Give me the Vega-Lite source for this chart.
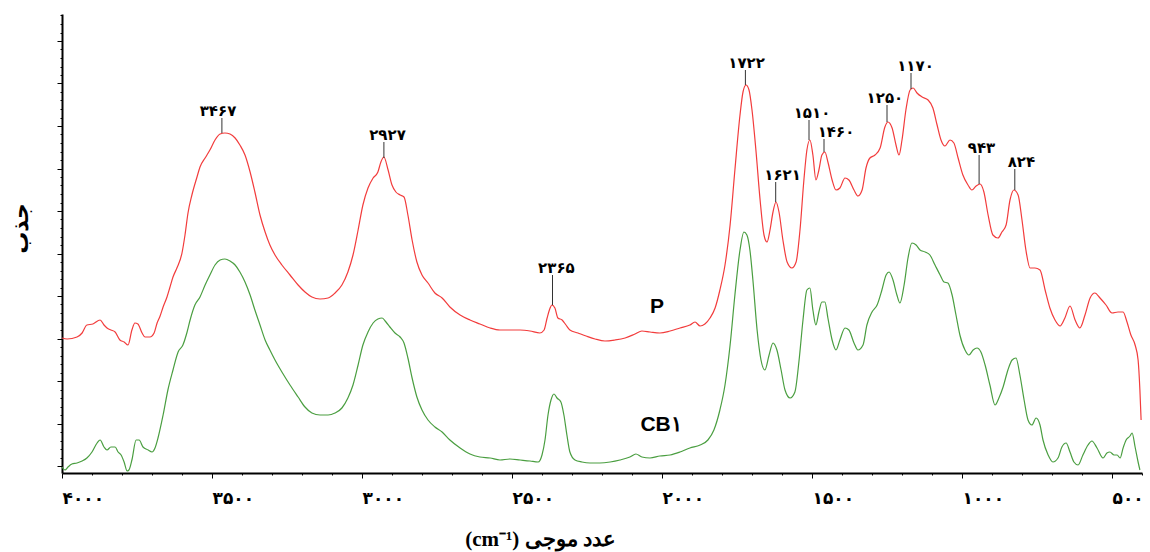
{
  "$schema": "https://vega.github.io/schema/vega-lite/v6.json",
  "autosize": {"type": "none"},
  "padding": {"left": 62, "top": 14, "right": 8, "bottom": 79},
  "width": 1080,
  "height": 459,
  "background": "white",
  "config": {
    "view": {"stroke": null},
    "axis": {"grid": false, "domainColor": "#000", "domainWidth": 2, "tickColor": "#000", "tickWidth": 1}
  },
  "datasets": {
    "spectra": [
      {"s":"P","w":4000,"a":13.5},{"s":"P","w":3983,"a":13.4},{"s":"P","w":3950,"a":13.6},{"s":"P","w":3933,"a":14.0},{"s":"P","w":3917,"a":14.8},{"s":"P","w":3897,"a":14.9},{"s":"P","w":3873,"a":15.3},{"s":"P","w":3860,"a":14.8},{"s":"P","w":3850,"a":14.5},{"s":"P","w":3837,"a":14.3},{"s":"P","w":3823,"a":14.1},{"s":"P","w":3807,"a":13.3},{"s":"P","w":3793,"a":13.1},{"s":"P","w":3780,"a":12.8},{"s":"P","w":3767,"a":14.3},{"s":"P","w":3757,"a":15.0},{"s":"P","w":3747,"a":14.9},{"s":"P","w":3733,"a":14.0},{"s":"P","w":3723,"a":13.6},{"s":"P","w":3707,"a":13.6},{"s":"P","w":3693,"a":14.0},{"s":"P","w":3683,"a":15.0},{"s":"P","w":3673,"a":15.7},{"s":"P","w":3663,"a":16.6},{"s":"P","w":3650,"a":17.6},{"s":"P","w":3640,"a":18.6},{"s":"P","w":3630,"a":19.6},{"s":"P","w":3617,"a":20.5},{"s":"P","w":3600,"a":22.0},{"s":"P","w":3590,"a":23.8},{"s":"P","w":3580,"a":26.0},{"s":"P","w":3567,"a":27.8},{"s":"P","w":3550,"a":29.6},{"s":"P","w":3540,"a":30.6},{"s":"P","w":3523,"a":31.5},{"s":"P","w":3507,"a":32.3},{"s":"P","w":3490,"a":33.3},{"s":"P","w":3473,"a":33.9},{"s":"P","w":3457,"a":34.0},{"s":"P","w":3440,"a":33.9},{"s":"P","w":3423,"a":33.5},{"s":"P","w":3407,"a":32.8},{"s":"P","w":3390,"a":31.8},{"s":"P","w":3373,"a":30.1},{"s":"P","w":3357,"a":28.1},{"s":"P","w":3340,"a":25.8},{"s":"P","w":3323,"a":24.1},{"s":"P","w":3307,"a":22.8},{"s":"P","w":3290,"a":21.8},{"s":"P","w":3267,"a":20.8},{"s":"P","w":3240,"a":19.8},{"s":"P","w":3213,"a":18.8},{"s":"P","w":3190,"a":18.1},{"s":"P","w":3167,"a":17.6},{"s":"P","w":3140,"a":17.4},{"s":"P","w":3113,"a":17.5},{"s":"P","w":3090,"a":18.0},{"s":"P","w":3067,"a":18.8},{"s":"P","w":3047,"a":20.1},{"s":"P","w":3030,"a":21.8},{"s":"P","w":3013,"a":24.3},{"s":"P","w":2997,"a":26.8},{"s":"P","w":2980,"a":28.5},{"s":"P","w":2963,"a":29.5},{"s":"P","w":2947,"a":30.1},{"s":"P","w":2937,"a":31.1},{"s":"P","w":2927,"a":31.6},{"s":"P","w":2913,"a":30.3},{"s":"P","w":2900,"a":28.8},{"s":"P","w":2887,"a":28.1},{"s":"P","w":2873,"a":27.8},{"s":"P","w":2860,"a":27.6},{"s":"P","w":2847,"a":25.8},{"s":"P","w":2833,"a":23.3},{"s":"P","w":2817,"a":21.1},{"s":"P","w":2800,"a":19.8},{"s":"P","w":2780,"a":19.0},{"s":"P","w":2757,"a":18.0},{"s":"P","w":2733,"a":17.5},{"s":"P","w":2707,"a":16.6},{"s":"P","w":2673,"a":15.8},{"s":"P","w":2640,"a":15.3},{"s":"P","w":2607,"a":14.9},{"s":"P","w":2573,"a":14.5},{"s":"P","w":2540,"a":14.3},{"s":"P","w":2507,"a":14.3},{"s":"P","w":2473,"a":14.3},{"s":"P","w":2440,"a":14.2},{"s":"P","w":2407,"a":14.0},{"s":"P","w":2393,"a":14.3},{"s":"P","w":2383,"a":15.5},{"s":"P","w":2373,"a":16.5},{"s":"P","w":2367,"a":16.8},{"s":"P","w":2357,"a":16.5},{"s":"P","w":2347,"a":15.5},{"s":"P","w":2333,"a":15.3},{"s":"P","w":2320,"a":14.8},{"s":"P","w":2307,"a":14.3},{"s":"P","w":2280,"a":14.0},{"s":"P","w":2253,"a":13.7},{"s":"P","w":2223,"a":13.4},{"s":"P","w":2190,"a":13.2},{"s":"P","w":2157,"a":13.3},{"s":"P","w":2123,"a":13.5},{"s":"P","w":2090,"a":13.9},{"s":"P","w":2067,"a":14.2},{"s":"P","w":2040,"a":14.1},{"s":"P","w":2007,"a":14.0},{"s":"P","w":1973,"a":14.2},{"s":"P","w":1940,"a":14.5},{"s":"P","w":1907,"a":14.8},{"s":"P","w":1890,"a":15.1},{"s":"P","w":1873,"a":14.7},{"s":"P","w":1857,"a":14.9},{"s":"P","w":1840,"a":15.5},{"s":"P","w":1823,"a":16.5},{"s":"P","w":1807,"a":18.3},{"s":"P","w":1790,"a":20.8},{"s":"P","w":1773,"a":24.8},{"s":"P","w":1757,"a":30.3},{"s":"P","w":1740,"a":35.8},{"s":"P","w":1730,"a":38.1},{"s":"P","w":1720,"a":38.8},{"s":"P","w":1710,"a":38.3},{"s":"P","w":1700,"a":36.3},{"s":"P","w":1687,"a":32.3},{"s":"P","w":1673,"a":27.3},{"s":"P","w":1660,"a":23.8},{"s":"P","w":1650,"a":23.1},{"s":"P","w":1640,"a":24.3},{"s":"P","w":1630,"a":26.1},{"s":"P","w":1620,"a":27.1},{"s":"P","w":1610,"a":26.1},{"s":"P","w":1597,"a":23.3},{"s":"P","w":1583,"a":21.1},{"s":"P","w":1567,"a":20.5},{"s":"P","w":1553,"a":21.1},{"s":"P","w":1540,"a":24.3},{"s":"P","w":1527,"a":29.3},{"s":"P","w":1517,"a":32.3},{"s":"P","w":1507,"a":33.3},{"s":"P","w":1497,"a":31.8},{"s":"P","w":1487,"a":29.3},{"s":"P","w":1477,"a":30.3},{"s":"P","w":1467,"a":31.8},{"s":"P","w":1457,"a":32.1},{"s":"P","w":1447,"a":31.1},{"s":"P","w":1433,"a":29.3},{"s":"P","w":1420,"a":28.3},{"s":"P","w":1407,"a":28.5},{"s":"P","w":1390,"a":29.5},{"s":"P","w":1377,"a":29.3},{"s":"P","w":1360,"a":28.3},{"s":"P","w":1347,"a":27.7},{"s":"P","w":1333,"a":28.3},{"s":"P","w":1320,"a":30.5},{"s":"P","w":1307,"a":31.5},{"s":"P","w":1290,"a":31.8},{"s":"P","w":1273,"a":32.5},{"s":"P","w":1257,"a":34.6},{"s":"P","w":1247,"a":35.1},{"s":"P","w":1233,"a":34.5},{"s":"P","w":1220,"a":32.8},{"s":"P","w":1210,"a":31.8},{"s":"P","w":1200,"a":33.3},{"s":"P","w":1187,"a":36.3},{"s":"P","w":1173,"a":38.3},{"s":"P","w":1163,"a":38.5},{"s":"P","w":1150,"a":38.0},{"s":"P","w":1133,"a":37.6},{"s":"P","w":1113,"a":37.3},{"s":"P","w":1097,"a":36.5},{"s":"P","w":1083,"a":34.8},{"s":"P","w":1070,"a":33.3},{"s":"P","w":1057,"a":32.7},{"s":"P","w":1040,"a":33.3},{"s":"P","w":1027,"a":33.0},{"s":"P","w":1013,"a":31.5},{"s":"P","w":997,"a":29.8},{"s":"P","w":980,"a":28.8},{"s":"P","w":967,"a":28.3},{"s":"P","w":953,"a":28.7},{"s":"P","w":940,"a":28.9},{"s":"P","w":927,"a":28.1},{"s":"P","w":913,"a":25.8},{"s":"P","w":897,"a":23.8},{"s":"P","w":880,"a":23.5},{"s":"P","w":867,"a":24.1},{"s":"P","w":853,"a":24.8},{"s":"P","w":840,"a":27.3},{"s":"P","w":827,"a":28.3},{"s":"P","w":813,"a":27.8},{"s":"P","w":800,"a":25.3},{"s":"P","w":787,"a":22.3},{"s":"P","w":773,"a":20.5},{"s":"P","w":757,"a":20.5},{"s":"P","w":740,"a":20.3},{"s":"P","w":723,"a":18.3},{"s":"P","w":707,"a":16.5},{"s":"P","w":690,"a":15.3},{"s":"P","w":673,"a":14.7},{"s":"P","w":657,"a":15.5},{"s":"P","w":640,"a":16.7},{"s":"P","w":623,"a":15.3},{"s":"P","w":607,"a":14.5},{"s":"P","w":590,"a":15.8},{"s":"P","w":573,"a":17.5},{"s":"P","w":557,"a":18.0},{"s":"P","w":540,"a":17.5},{"s":"P","w":520,"a":16.8},{"s":"P","w":500,"a":16.0},{"s":"P","w":480,"a":16.1},{"s":"P","w":463,"a":16.1},{"s":"P","w":450,"a":15.1},{"s":"P","w":437,"a":13.8},{"s":"P","w":423,"a":12.8},{"s":"P","w":413,"a":11.3},{"s":"P","w":407,"a":8.3},{"s":"P","w":403,"a":5.3},
      {"s":"CB۱","w":4000,"a":0.6},{"s":"CB۱","w":3990,"a":0.3},{"s":"CB۱","w":3980,"a":0.6},{"s":"CB۱","w":3967,"a":0.9},{"s":"CB۱","w":3950,"a":1.0},{"s":"CB۱","w":3933,"a":1.2},{"s":"CB۱","w":3917,"a":1.5},{"s":"CB۱","w":3900,"a":2.1},{"s":"CB۱","w":3883,"a":3.0},{"s":"CB۱","w":3873,"a":3.3},{"s":"CB۱","w":3860,"a":2.6},{"s":"CB۱","w":3850,"a":2.3},{"s":"CB۱","w":3837,"a":2.6},{"s":"CB۱","w":3823,"a":2.6},{"s":"CB۱","w":3813,"a":2.1},{"s":"CB۱","w":3803,"a":1.8},{"s":"CB۱","w":3793,"a":1.1},{"s":"CB۱","w":3783,"a":0.2},{"s":"CB۱","w":3777,"a":0.3},{"s":"CB۱","w":3767,"a":1.3},{"s":"CB۱","w":3753,"a":3.3},{"s":"CB۱","w":3743,"a":3.3},{"s":"CB۱","w":3730,"a":2.6},{"s":"CB۱","w":3713,"a":2.3},{"s":"CB۱","w":3700,"a":2.1},{"s":"CB۱","w":3690,"a":2.5},{"s":"CB۱","w":3680,"a":3.5},{"s":"CB۱","w":3663,"a":5.8},{"s":"CB۱","w":3647,"a":8.3},{"s":"CB۱","w":3630,"a":10.3},{"s":"CB۱","w":3613,"a":12.1},{"s":"CB۱","w":3597,"a":12.8},{"s":"CB۱","w":3583,"a":14.1},{"s":"CB۱","w":3573,"a":15.3},{"s":"CB۱","w":3557,"a":16.8},{"s":"CB۱","w":3540,"a":17.6},{"s":"CB۱","w":3523,"a":18.8},{"s":"CB۱","w":3507,"a":19.8},{"s":"CB۱","w":3490,"a":20.8},{"s":"CB۱","w":3473,"a":21.3},{"s":"CB۱","w":3457,"a":21.4},{"s":"CB۱","w":3440,"a":21.2},{"s":"CB۱","w":3423,"a":20.8},{"s":"CB۱","w":3407,"a":20.1},{"s":"CB۱","w":3390,"a":19.1},{"s":"CB۱","w":3373,"a":17.8},{"s":"CB۱","w":3357,"a":16.3},{"s":"CB۱","w":3340,"a":14.8},{"s":"CB۱","w":3323,"a":13.3},{"s":"CB۱","w":3307,"a":12.3},{"s":"CB۱","w":3290,"a":11.3},{"s":"CB۱","w":3267,"a":10.1},{"s":"CB۱","w":3240,"a":8.8},{"s":"CB۱","w":3213,"a":7.6},{"s":"CB۱","w":3190,"a":6.6},{"s":"CB۱","w":3167,"a":6.0},{"s":"CB۱","w":3140,"a":5.8},{"s":"CB۱","w":3113,"a":5.8},{"s":"CB۱","w":3090,"a":6.0},{"s":"CB۱","w":3067,"a":6.5},{"s":"CB۱","w":3047,"a":7.5},{"s":"CB۱","w":3030,"a":8.8},{"s":"CB۱","w":3013,"a":10.8},{"s":"CB۱","w":2997,"a":12.8},{"s":"CB۱","w":2980,"a":14.1},{"s":"CB۱","w":2963,"a":15.0},{"s":"CB۱","w":2947,"a":15.4},{"s":"CB۱","w":2933,"a":15.5},{"s":"CB۱","w":2920,"a":15.1},{"s":"CB۱","w":2907,"a":14.6},{"s":"CB۱","w":2890,"a":14.0},{"s":"CB۱","w":2873,"a":13.6},{"s":"CB۱","w":2860,"a":13.0},{"s":"CB۱","w":2847,"a":11.5},{"s":"CB۱","w":2833,"a":9.5},{"s":"CB۱","w":2817,"a":7.6},{"s":"CB۱","w":2800,"a":6.3},{"s":"CB۱","w":2780,"a":5.3},{"s":"CB۱","w":2757,"a":4.6},{"s":"CB۱","w":2733,"a":4.1},{"s":"CB۱","w":2707,"a":3.3},{"s":"CB۱","w":2673,"a":2.5},{"s":"CB۱","w":2640,"a":1.9},{"s":"CB۱","w":2607,"a":1.6},{"s":"CB۱","w":2573,"a":1.5},{"s":"CB۱","w":2540,"a":1.3},{"s":"CB۱","w":2507,"a":1.4},{"s":"CB۱","w":2473,"a":1.3},{"s":"CB۱","w":2440,"a":1.2},{"s":"CB۱","w":2413,"a":1.1},{"s":"CB۱","w":2400,"a":1.8},{"s":"CB۱","w":2390,"a":3.3},{"s":"CB۱","w":2380,"a":5.8},{"s":"CB۱","w":2370,"a":7.3},{"s":"CB۱","w":2360,"a":7.9},{"s":"CB۱","w":2350,"a":7.5},{"s":"CB۱","w":2337,"a":7.1},{"s":"CB۱","w":2327,"a":5.8},{"s":"CB۱","w":2317,"a":3.8},{"s":"CB۱","w":2307,"a":2.1},{"s":"CB۱","w":2290,"a":1.3},{"s":"CB۱","w":2267,"a":1.1},{"s":"CB۱","w":2240,"a":1.0},{"s":"CB۱","w":2207,"a":1.0},{"s":"CB۱","w":2173,"a":1.1},{"s":"CB۱","w":2140,"a":1.3},{"s":"CB۱","w":2107,"a":1.6},{"s":"CB۱","w":2087,"a":1.9},{"s":"CB۱","w":2067,"a":1.6},{"s":"CB۱","w":2040,"a":1.5},{"s":"CB۱","w":2007,"a":1.7},{"s":"CB۱","w":1973,"a":1.8},{"s":"CB۱","w":1940,"a":2.1},{"s":"CB۱","w":1907,"a":2.5},{"s":"CB۱","w":1873,"a":2.8},{"s":"CB۱","w":1847,"a":3.3},{"s":"CB۱","w":1827,"a":4.3},{"s":"CB۱","w":1807,"a":6.3},{"s":"CB۱","w":1790,"a":8.8},{"s":"CB۱","w":1773,"a":12.8},{"s":"CB۱","w":1757,"a":17.8},{"s":"CB۱","w":1740,"a":22.3},{"s":"CB۱","w":1727,"a":24.1},{"s":"CB۱","w":1717,"a":23.8},{"s":"CB۱","w":1707,"a":22.3},{"s":"CB۱","w":1697,"a":19.3},{"s":"CB۱","w":1683,"a":14.3},{"s":"CB۱","w":1670,"a":11.3},{"s":"CB۱","w":1657,"a":10.3},{"s":"CB۱","w":1643,"a":11.8},{"s":"CB۱","w":1630,"a":13.0},{"s":"CB۱","w":1617,"a":12.3},{"s":"CB۱","w":1603,"a":10.3},{"s":"CB۱","w":1590,"a":8.3},{"s":"CB۱","w":1573,"a":7.5},{"s":"CB۱","w":1557,"a":8.1},{"s":"CB۱","w":1543,"a":11.3},{"s":"CB۱","w":1530,"a":15.3},{"s":"CB۱","w":1517,"a":18.3},{"s":"CB۱","w":1507,"a":18.5},{"s":"CB۱","w":1497,"a":16.3},{"s":"CB۱","w":1487,"a":14.8},{"s":"CB۱","w":1477,"a":16.1},{"s":"CB۱","w":1467,"a":17.1},{"s":"CB۱","w":1457,"a":17.1},{"s":"CB۱","w":1447,"a":15.5},{"s":"CB۱","w":1433,"a":13.3},{"s":"CB۱","w":1420,"a":12.3},{"s":"CB۱","w":1407,"a":13.3},{"s":"CB۱","w":1390,"a":14.5},{"s":"CB۱","w":1377,"a":14.3},{"s":"CB۱","w":1360,"a":13.0},{"s":"CB۱","w":1347,"a":12.3},{"s":"CB۱","w":1330,"a":12.8},{"s":"CB۱","w":1317,"a":14.8},{"s":"CB۱","w":1300,"a":16.1},{"s":"CB۱","w":1283,"a":16.8},{"s":"CB۱","w":1267,"a":18.3},{"s":"CB۱","w":1253,"a":19.8},{"s":"CB۱","w":1243,"a":20.1},{"s":"CB۱","w":1230,"a":19.3},{"s":"CB۱","w":1217,"a":17.8},{"s":"CB۱","w":1207,"a":17.0},{"s":"CB۱","w":1193,"a":18.8},{"s":"CB۱","w":1180,"a":21.5},{"s":"CB۱","w":1167,"a":23.0},{"s":"CB۱","w":1153,"a":22.8},{"s":"CB۱","w":1140,"a":22.3},{"s":"CB۱","w":1123,"a":22.1},{"s":"CB۱","w":1107,"a":21.8},{"s":"CB۱","w":1090,"a":20.8},{"s":"CB۱","w":1073,"a":19.8},{"s":"CB۱","w":1060,"a":19.1},{"s":"CB۱","w":1047,"a":19.0},{"s":"CB۱","w":1033,"a":17.8},{"s":"CB۱","w":1020,"a":15.8},{"s":"CB۱","w":1007,"a":13.8},{"s":"CB۱","w":990,"a":12.3},{"s":"CB۱","w":977,"a":11.8},{"s":"CB۱","w":963,"a":12.3},{"s":"CB۱","w":950,"a":12.5},{"s":"CB۱","w":937,"a":12.1},{"s":"CB۱","w":923,"a":10.8},{"s":"CB۱","w":907,"a":8.8},{"s":"CB۱","w":890,"a":6.8},{"s":"CB۱","w":877,"a":7.5},{"s":"CB۱","w":863,"a":8.6},{"s":"CB۱","w":847,"a":10.3},{"s":"CB۱","w":833,"a":11.3},{"s":"CB۱","w":820,"a":11.5},{"s":"CB۱","w":807,"a":9.8},{"s":"CB۱","w":793,"a":7.3},{"s":"CB۱","w":780,"a":5.3},{"s":"CB۱","w":767,"a":4.8},{"s":"CB۱","w":753,"a":5.5},{"s":"CB۱","w":740,"a":4.8},{"s":"CB۱","w":730,"a":3.3},{"s":"CB۱","w":713,"a":1.8},{"s":"CB۱","w":697,"a":1.1},{"s":"CB۱","w":680,"a":1.5},{"s":"CB۱","w":667,"a":2.6},{"s":"CB۱","w":653,"a":3.0},{"s":"CB۱","w":640,"a":2.1},{"s":"CB۱","w":627,"a":1.1},{"s":"CB۱","w":613,"a":0.8},{"s":"CB۱","w":597,"a":1.8},{"s":"CB۱","w":580,"a":2.8},{"s":"CB۱","w":567,"a":3.2},{"s":"CB۱","w":550,"a":2.5},{"s":"CB۱","w":530,"a":1.5},{"s":"CB۱","w":517,"a":2.0},{"s":"CB۱","w":507,"a":2.1},{"s":"CB۱","w":493,"a":1.8},{"s":"CB۱","w":483,"a":1.8},{"s":"CB۱","w":473,"a":1.5},{"s":"CB۱","w":463,"a":2.5},{"s":"CB۱","w":453,"a":3.3},{"s":"CB۱","w":440,"a":3.7},{"s":"CB۱","w":433,"a":4.0},{"s":"CB۱","w":423,"a":2.6},{"s":"CB۱","w":413,"a":1.1},{"s":"CB۱","w":407,"a":0.3}
    ],
    "peaks": [
      {"w":3467,"lw":3480,"label":"۳۴۶۷","peak":34.0,"top":35.5},
      {"w":2927,"lw":2915,"label":"۲۹۲۷","peak":31.5,"top":33.1},
      {"w":2365,"lw":2352,"label":"۲۳۶۵","peak":16.8,"top":19.8},
      {"w":1722,"lw":1718,"label":"۱۷۲۲","peak":38.8,"top":40.3},
      {"w":1621,"lw":1598,"label":"۱۶۲۱","peak":27.1,"top":29.1},
      {"w":1510,"lw":1500,"label":"۱۵۱۰","peak":33.3,"top":35.3},
      {"w":1460,"lw":1420,"label":"۱۴۶۰","peak":32.1,"top":33.4},
      {"w":1250,"lw":1257,"label":"۱۲۵۰","peak":35.1,"top":36.8},
      {"w":1170,"lw":1155,"label":"۱۱۷۰","peak":38.4,"top":40.0},
      {"w":943,"lw":935,"label":"۹۴۳","peak":28.9,"top":31.8},
      {"w":824,"lw":802,"label":"۸۲۴","peak":28.3,"top":30.4}
    ],
    "names": [
      {"name":"P","w":2017,"a":16.6},
      {"name":"CB۱","w":2003,"a":4.8}
    ]
  },
  "layer": [
    {
      "data": {"name": "spectra"},
      "mark": {"type": "line", "strokeWidth": 1.2, "interpolate": "monotone"},
      "encoding": {
        "x": {
          "field": "w", "type": "quantitative",
          "scale": {"domain": [400, 4000], "reverse": true, "nice": false, "zero": false},
          "axis": {
            "values": [4000,3900,3800,3700,3600,3500,3400,3300,3200,3100,3000,2900,2800,2700,2600,2500,2400,2300,2200,2100,2000,1900,1800,1700,1600,1500,1400,1300,1200,1100,1000,900,800,700,600,500,400],
            "tickCount": 500,
            "labelExpr": "datum.value === 4000 ? '۴۰۰۰' : datum.value === 3500 ? '۳۵۰۰' : datum.value === 3000 ? '۳۰۰۰' : datum.value === 2500 ? '۲۵۰۰' : datum.value === 2000 ? '۲۰۰۰' : datum.value === 1500 ? '۱۵۰۰' : datum.value === 1000 ? '۱۰۰۰' : datum.value === 500 ? '۵۰۰' : ''",
            "labelAlign": "left",
            "labelBaseline": "middle",
            "labelPadding": 20,
            "labelOverlap": false,
            "labelFlush": false,
            "labelFont": "DejaVu Sans",
            "labelFontSize": 17,
            "labelFontWeight": "bold",
            "labelColor": "#000",
            "tickSize": {"condition": {"test": "datum.value % 500 === 0", "value": 5}, "value": 2},
            "title": "(cm⁻¹) عدد موجی",
            "titleFont": "Liberation Serif",
            "titleFontSize": 21,
            "titleFontWeight": "bold",
            "titleColor": "#000",
            "titleX": 478,
            "titleY": 66,
            "titleAlign": "center",
            "titleBaseline": "middle"
          }
        },
        "y": {
          "field": "a", "type": "quantitative",
          "scale": {"domain": [0, 45.9], "nice": false, "zero": false},
          "axis": {
            "values": [0.7,1.55,2.4,3.25,4.1,4.95,5.8,6.65,7.5,8.35,9.2,10.05,10.9,11.75,12.6,13.45,14.3,15.15,16.0,16.85,17.7,18.55,19.4,20.25,21.1,21.95,22.8,23.65,24.5,25.35,26.2,27.05,27.9,28.75,29.6,30.45,31.3,32.15,33.0,33.85,34.7,35.55,36.4,37.25,38.1,38.95,39.8,40.65,41.5,42.35,43.2,44.05,44.9,45.75],
            "tickCount": 500,
            "labels": false,
            "tickSize": {"condition": {"test": "abs((datum.value - 0.7) / 4.25 - round((datum.value - 0.7) / 4.25)) < 0.02", "value": 5}, "value": 2},
            "title": "جذب",
            "titleFont": "DejaVu Sans",
            "titleFontSize": 22,
            "titleFontWeight": "bold",
            "titleColor": "#000",
            "titleX": -42,
            "titleY": 214,
            "titleAngle": -90,
            "titleAlign": "center",
            "titleBaseline": "middle"
          }
        },
        "color": {
          "field": "s", "type": "nominal",
          "scale": {"domain": ["P", "CB۱"], "range": ["#f23c3c", "#4a9e40"]},
          "legend": null
        }
      }
    },
    {
      "data": {"name": "peaks"},
      "mark": {"type": "rule", "color": "#333", "strokeWidth": 1},
      "encoding": {
        "x": {"field": "w", "type": "quantitative"},
        "y": {"field": "top", "type": "quantitative"},
        "y2": {"field": "peak"}
      }
    },
    {
      "data": {"name": "peaks"},
      "mark": {"type": "text", "font": "DejaVu Sans", "fontSize": 15, "fontWeight": "bold", "baseline": "alphabetic", "align": "center", "dy": -2, "color": "#000"},
      "encoding": {
        "x": {"field": "lw", "type": "quantitative"},
        "y": {"field": "top", "type": "quantitative"},
        "text": {"field": "label"}
      }
    },
    {
      "data": {"name": "names"},
      "mark": {"type": "text", "font": "Liberation Sans", "fontSize": 21, "fontWeight": "bold", "baseline": "middle", "align": "center", "color": "#000"},
      "encoding": {
        "x": {"field": "w", "type": "quantitative"},
        "y": {"field": "a", "type": "quantitative"},
        "text": {"field": "name"}
      }
    }
  ]
}
